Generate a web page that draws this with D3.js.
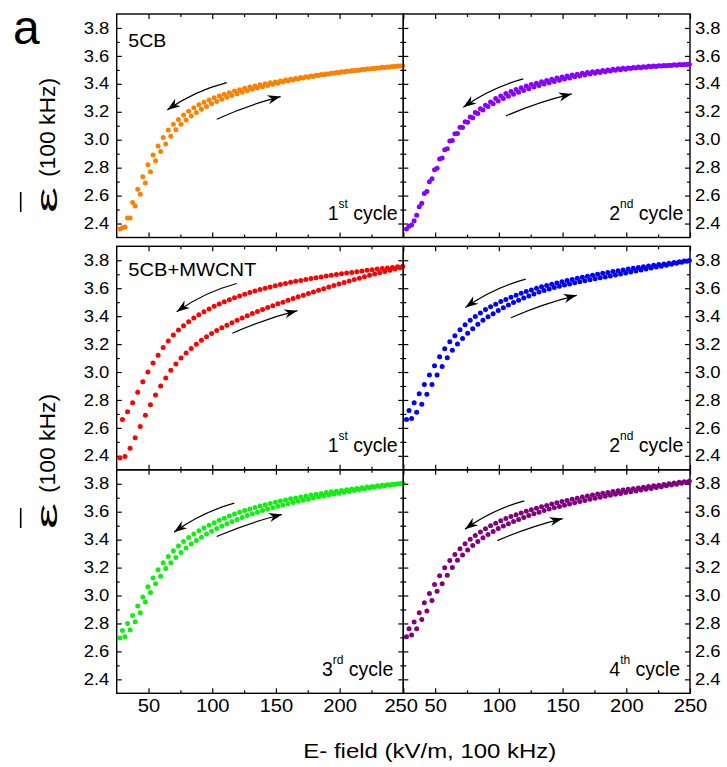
<!DOCTYPE html>
<html>
<head>
<meta charset="utf-8">
<script src="https://cdn.jsdelivr.net/npm/d3@7"></script>
<style>
  html, body { margin: 0; padding: 0; background: #fff; }
  svg { display: block; font-family: "Liberation Sans", Arial, sans-serif; }
</style>
</head>
<body>
<svg id="chart" width="727" height="767"></svg>
<script>
// ---- Field values (kV/m) for the rising and the falling sweep ----
const fieldUp = [27.5,31.5,35.5,39.5,43.5,47.5,51.5,55.5,59.5,63.5,67.5,71.5,75.5,79.5,83.5,87.5,91.5,95.5,99.5,103.5,107.5,111.5,115.5,119.5,123.5,127.5,131.5,135.5,139.5,143.5,147.5,151.5,155.5,159.5,163.5,167.5,171.5,175.5,179.5,183.5,187.5,191.5,195.5,199.5,203.5,207.5,211.5,215.5,219.5,223.5,227.5,231.5,235.5,239.5,243.5,247.5];
const fieldDown = [29.5,33.5,37.5,41.5,45.5,49.5,53.5,57.5,61.5,65.5,69.5,73.5,77.5,81.5,85.5,89.5,93.5,97.5,101.5,105.5,109.5,113.5,117.5,121.5,125.5,129.5,133.5,137.5,141.5,145.5,149.5,153.5,157.5,161.5,165.5,169.5,173.5,177.5,181.5,185.5,189.5,193.5,197.5,201.5,205.5,209.5,213.5,217.5,221.5,225.5,229.5,233.5,237.5,241.5,245.5,249.5];

// ---- Mean permittivity at 100 kHz ----
// 5CB, 1st cycle
const cb1Up = [2.36,2.375,2.44,2.525,2.61,2.69,2.77,2.85,2.915,2.97,3.025,3.072,3.11,3.142,3.17,3.195,3.218,3.238,3.257,3.274,3.29,3.304,3.317,3.329,3.34,3.351,3.361,3.371,3.38,3.389,3.397,3.405,3.413,3.42,3.427,3.434,3.441,3.447,3.453,3.459,3.465,3.47,3.475,3.48,3.485,3.49,3.494,3.498,3.502,3.506,3.51,3.514,3.517,3.521,3.524,3.528];
const cb1Down = [2.37,2.44,2.55,2.645,2.735,2.82,2.89,2.955,3.015,3.07,3.11,3.145,3.177,3.203,3.228,3.25,3.268,3.285,3.30,3.313,3.325,3.337,3.348,3.358,3.368,3.377,3.385,3.393,3.40,3.407,3.414,3.42,3.427,3.433,3.439,3.445,3.45,3.456,3.461,3.466,3.471,3.476,3.481,3.486,3.49,3.494,3.498,3.502,3.506,3.51,3.514,3.518,3.521,3.524,3.527,3.53];
// 5CB, 2nd cycle
const cb2Up = [2.36,2.39,2.46,2.545,2.63,2.72,2.795,2.87,2.935,2.995,3.045,3.088,3.125,3.158,3.187,3.213,3.237,3.258,3.277,3.295,3.311,3.326,3.34,3.353,3.365,3.377,3.388,3.398,3.408,3.417,3.426,3.434,3.442,3.45,3.457,3.464,3.47,3.476,3.482,3.487,3.492,3.497,3.501,3.505,3.509,3.513,3.516,3.519,3.522,3.525,3.528,3.53,3.532,3.534,3.536,3.538];
const cb2Down = [2.38,2.42,2.52,2.615,2.70,2.785,2.862,2.928,2.99,3.042,3.09,3.128,3.163,3.194,3.222,3.247,3.27,3.295,3.313,3.33,3.345,3.359,3.372,3.384,3.395,3.405,3.415,3.424,3.433,3.441,3.449,3.456,3.463,3.469,3.475,3.481,3.486,3.491,3.496,3.50,3.504,3.508,3.511,3.514,3.517,3.52,3.523,3.526,3.528,3.53,3.532,3.534,3.536,3.538,3.539,3.54];
// 5CB+MWCNT, cycles 1-4
const cnt1Up = [2.385,2.395,2.455,2.53,2.61,2.69,2.765,2.835,2.90,2.958,3.012,3.058,3.10,3.137,3.168,3.198,3.227,3.252,3.275,3.297,3.317,3.335,3.353,3.37,3.387,3.403,3.419,3.434,3.448,3.462,3.475,3.488,3.50,3.513,3.526,3.538,3.55,3.562,3.573,3.585,3.597,3.608,3.619,3.63,3.641,3.652,3.662,3.672,3.682,3.692,3.701,3.71,3.719,3.728,3.737,3.746];
const cnt1Down = [2.66,2.715,2.78,2.855,2.93,3.00,3.065,3.12,3.175,3.222,3.265,3.30,3.332,3.36,3.386,3.41,3.432,3.452,3.47,3.487,3.503,3.517,3.531,3.544,3.557,3.569,3.58,3.59,3.60,3.609,3.618,3.626,3.634,3.642,3.649,3.656,3.663,3.669,3.675,3.681,3.687,3.693,3.698,3.703,3.708,3.713,3.718,3.723,3.728,3.732,3.737,3.741,3.745,3.749,3.753,3.757];
const cnt2Up = [2.66,2.668,2.712,2.77,2.84,2.91,2.978,3.04,3.102,3.155,3.20,3.24,3.277,3.309,3.342,3.371,3.395,3.418,3.44,3.46,3.479,3.497,3.514,3.53,3.545,3.559,3.572,3.584,3.595,3.605,3.614,3.623,3.631,3.639,3.646,3.653,3.66,3.667,3.674,3.681,3.688,3.695,3.702,3.709,3.716,3.723,3.73,3.737,3.744,3.751,3.758,3.765,3.772,3.779,3.786,3.793];
const cnt2Down = [2.725,2.78,2.845,2.91,2.978,3.045,3.11,3.166,3.217,3.26,3.303,3.338,3.37,3.398,3.423,3.447,3.467,3.486,3.504,3.52,3.535,3.549,3.563,3.576,3.588,3.599,3.61,3.62,3.629,3.638,3.647,3.655,3.663,3.671,3.679,3.686,3.693,3.70,3.707,3.713,3.719,3.725,3.731,3.737,3.743,3.749,3.754,3.759,3.764,3.769,3.774,3.779,3.784,3.789,3.794,3.799];
const cnt3Up = [2.695,2.705,2.753,2.812,2.877,2.953,3.022,3.085,3.138,3.193,3.234,3.273,3.308,3.34,3.368,3.394,3.418,3.44,3.46,3.479,3.497,3.514,3.53,3.545,3.559,3.572,3.585,3.597,3.608,3.619,3.629,3.639,3.648,3.657,3.666,3.674,3.682,3.69,3.698,3.705,3.712,3.719,3.726,3.733,3.739,3.745,3.751,3.757,3.763,3.769,3.775,3.78,3.785,3.79,3.795,3.80];
const cnt3Down = [2.75,2.80,2.857,2.925,2.99,3.062,3.125,3.185,3.235,3.28,3.32,3.355,3.387,3.415,3.44,3.463,3.484,3.503,3.521,3.538,3.554,3.569,3.583,3.596,3.608,3.619,3.63,3.64,3.65,3.659,3.668,3.676,3.684,3.692,3.699,3.706,3.713,3.719,3.725,3.731,3.737,3.742,3.747,3.752,3.757,3.762,3.767,3.772,3.776,3.78,3.785,3.789,3.793,3.797,3.801,3.805];
const cnt4Up = [2.705,2.718,2.762,2.828,2.89,2.965,3.03,3.085,3.145,3.20,3.252,3.29,3.325,3.358,3.387,3.413,3.437,3.459,3.479,3.497,3.514,3.53,3.545,3.559,3.572,3.585,3.597,3.608,3.619,3.629,3.638,3.647,3.656,3.665,3.673,3.681,3.689,3.697,3.704,3.711,3.718,3.725,3.731,3.737,3.743,3.749,3.755,3.761,3.767,3.773,3.779,3.785,3.791,3.797,3.803,3.809];
const cnt4Down = [2.762,2.81,2.877,2.948,3.015,3.078,3.142,3.198,3.25,3.293,3.335,3.371,3.402,3.43,3.455,3.478,3.499,3.518,3.535,3.551,3.565,3.578,3.591,3.603,3.614,3.625,3.635,3.645,3.655,3.664,3.673,3.681,3.689,3.697,3.705,3.712,3.719,3.726,3.732,3.738,3.744,3.75,3.755,3.76,3.765,3.77,3.775,3.78,3.785,3.79,3.795,3.80,3.805,3.81,3.815,3.82];

// ---- Axis ticks ----
const xMajor = [50, 100, 150, 200, 250];
const xMinor = [75, 125, 175, 225];
const yMajor = [2.4, 2.6, 2.8, 3.0, 3.2, 3.4, 3.6, 3.8];
const yMinor = [2.5, 2.7, 2.9, 3.1, 3.3, 3.5, 3.7];

// ---- Layout ----
const colX = [[116.7, 403.3], [403.3, 690]];
const rowY = [[14, 237.5], [246.3, 469.8], [469.8, 693.3]];
const xDomain = [25, 250], yDomain = [2.3, 3.9];

// sweep-direction arrows, in data units: [E start, eps start, E end, eps end]
const panels = [
  { row: 0, col: 0, up: cb1Up, down: cb1Down, color: "#ff8000", sample: "5CB", sampleW: 38,
    cyc: ["1", "st"], cycRight: 5.6,
    back: [111.4, 3.409, 64.7, 3.213], fwd: [103.5, 3.147, 153.7, 3.309] },
  { row: 0, col: 1, up: cb2Up, down: cb2Down, color: "#8800ff",
    cyc: ["2", "nd"], cycRight: 6.7,
    back: [119.2, 3.435, 72.1, 3.233], fwd: [105.6, 3.171, 157.2, 3.328] },
  { row: 1, col: 0, up: cnt1Up, down: cnt1Down, color: "#ff0000", sample: "5CB+MWCNT", sampleW: 128,
    cyc: ["1", "st"], cycRight: 5.6,
    back: [119.2, 3.634, 72.1, 3.432], fwd: [115.8, 3.278, 166.8, 3.439] },
  { row: 1, col: 1, up: cnt2Up, down: cnt2Down, color: "#0000ff",
    cyc: ["2", "nd"], cycRight: 6.7,
    back: [121.1, 3.665, 73.7, 3.461], fwd: [109.5, 3.389, 161.1, 3.549] },
  { row: 2, col: 0, up: cnt3Up, down: cnt3Down, color: "#11ee11",
    cyc: ["3", "rd"], cycRight: 10,
    back: [117.3, 3.661, 70.0, 3.453], fwd: [103.5, 3.422, 154.8, 3.580] },
  { row: 2, col: 1, up: cnt4Up, down: cnt4Down, color: "#800080",
    cyc: ["4", "th"], cycRight: 10,
    back: [120.0, 3.677, 73.4, 3.475], fwd: [98.8, 3.393, 150.1, 3.551] }
];

const svg = d3.select("#chart");

// arrowhead
svg.append("defs").append("marker")
  .attr("id", "head")
  .attr("viewBox", "-14 -6 16 12")
  .attr("refX", 0).attr("refY", 0)
  .attr("markerUnits", "userSpaceOnUse")
  .attr("markerWidth", 16).attr("markerHeight", 12)
  .attr("orient", "auto")
  .append("path")
  .attr("d", "M0,0 L-13,-4.6 L-9,0 L-13,4.6 Z")
  .attr("fill", "#000");

// widen a text element horizontally by a factor
function widen(sel, f) {
  sel.each(function () {
    const len = this.getComputedTextLength();
    d3.select(this).attr("textLength", len * f).attr("lengthAdjust", "spacingAndGlyphs");
  });
}

const fmtY = d3.format(".1f");
const fmtX = d3.format("d");

function drawPanel(p) {
  const [x0, x1] = colX[p.col];
  const [y0, y1] = rowY[p.row];
  const x = d3.scaleLinear().domain(xDomain).range([x0, x1]);
  const y = d3.scaleLinear().domain(yDomain).range([y1, y0]);
  const g = svg.append("g");

  function addAxis(axis, tr) {
    const a = g.append("g").attr("transform", tr).call(axis);
    a.attr("font-size", null).attr("font-family", null);
    a.select(".domain").remove();
    a.selectAll("line").attr("stroke", "#000").attr("stroke-width", 1.2);
    a.selectAll("text").attr("fill", "#000");
    return a;
  }

  // bottom
  const bx = addAxis(d3.axisBottom(x).tickValues(xMajor).tickSize(-5).tickPadding(6)
    .tickFormat(p.row === 2 ? fmtX : () => ""), `translate(0,${y1})`);
  addAxis(d3.axisBottom(x).tickValues(xMinor).tickSize(-3).tickFormat(() => ""), `translate(0,${y1})`);
  // top
  addAxis(d3.axisTop(x).tickValues(xMajor).tickSize(-5).tickFormat(() => ""), `translate(0,${y0})`);
  addAxis(d3.axisTop(x).tickValues(xMinor).tickSize(-3).tickFormat(() => ""), `translate(0,${y0})`);
  // left
  const lx = addAxis(d3.axisLeft(y).tickValues(yMajor).tickSize(-5).tickPadding(7.4)
    .tickFormat(p.col === 0 ? fmtY : () => ""), `translate(${x0},0)`);
  addAxis(d3.axisLeft(y).tickValues(yMinor).tickSize(-3).tickFormat(() => ""), `translate(${x0},0)`);
  // right
  const rx = addAxis(d3.axisRight(y).tickValues(yMajor).tickSize(-5).tickPadding(5)
    .tickFormat(p.col === 1 ? fmtY : () => ""), `translate(${x1},0)`);
  addAxis(d3.axisRight(y).tickValues(yMinor).tickSize(-3).tickFormat(() => ""), `translate(${x1},0)`);

  if (p.row === 2) {
    bx.selectAll("text").attr("font-size", 17.5);
    widen(bx.selectAll("text"), 1.15);
    if (p.col === 0) bx.selectAll("text").filter(d => d === 250).attr("dx", "-0.15em");
  }
  if (p.col === 0) { lx.selectAll("text").attr("font-size", 16); widen(lx.selectAll("text"), 1.15); }
  if (p.col === 1) { rx.selectAll("text").attr("font-size", 16); widen(rx.selectAll("text"), 1.15); }

  // frame
  g.append("rect")
    .attr("x", x0).attr("y", y0).attr("width", x1 - x0).attr("height", y1 - y0)
    .attr("fill", "none").attr("stroke", "#000").attr("stroke-width", 1.4);

  // data: rising sweep, then falling sweep
  const pts = [];
  fieldUp.forEach((e, i) => { if (p.up[i] != null) pts.push([e, p.up[i]]); });
  fieldDown.forEach((e, i) => { if (p.down[i] != null) pts.push([e, p.down[i]]); });
  g.append("g").selectAll("circle").data(pts).join("circle")
    .attr("cx", d => x(d[0])).attr("cy", d => y(d[1]))
    .attr("r", 2.5).attr("fill", p.color);

  // sweep arrows, slightly bowed upward
  function arrow(a, bow) {
    const ax = x(a[0]), ay = y(a[1]), bxp = x(a[2]), byp = y(a[3]);
    const dx = bxp - ax, dy = byp - ay, len = Math.hypot(dx, dy);
    let nx = -dy / len, ny = dx / len;
    if (ny > 0) { nx = -nx; ny = -ny; }
    const cx = (ax + bxp) / 2 + nx * 2 * bow, cy = (ay + byp) / 2 + ny * 2 * bow;
    const path = d3.path();
    path.moveTo(ax, ay);
    path.quadraticCurveTo(cx, cy, bxp, byp);
    g.append("path").attr("d", path.toString())
      .attr("fill", "none").attr("stroke", "#000").attr("stroke-width", 1.2)
      .attr("marker-end", "url(#head)");
  }
  arrow(p.back, 3);
  arrow(p.fwd, 1.5);

  // sample name
  if (p.sample) {
    g.append("text").attr("x", x0 + 11.6).attr("y", y0 + (p.row === 0 ? 32.7 : 29.8))
      .attr("font-size", 18.5).attr("textLength", p.sampleW).attr("lengthAdjust", "spacingAndGlyphs")
      .text(p.sample);
  }

  // cycle label with ordinal superscript
  const t = g.append("text").attr("x", x1 - p.cycRight).attr("y", y1 - 17.6)
    .attr("font-size", 19.5).attr("text-anchor", "end");
  t.append("tspan").text(p.cyc[0]);
  t.append("tspan").attr("font-size", 12).attr("dy", -12).text(p.cyc[1]);
  t.append("tspan").attr("dy", 12).text(" cycle");
}

panels.forEach(drawPanel);

// y-axis titles: mean permittivity (overbar drawn as a separate stroke)
function yTitle(shift) {
  svg.append("text")
    .attr("transform", `translate(54.5,${177 + shift}) rotate(-90)`)
    .attr("font-size", 22).attr("textLength", 99).attr("lengthAdjust", "spacingAndGlyphs")
    .text("(100 kHz)");
  svg.append("text")
    .attr("transform", `translate(57,${213 + shift}) rotate(-90)`)
    .attr("font-size", 30).attr("textLength", 26).attr("lengthAdjust", "spacingAndGlyphs")
    .text("ε");
  svg.append("line")
    .attr("x1", 20.7).attr("x2", 20.7).attr("y1", 192 + shift).attr("y2", 212 + shift)
    .attr("stroke", "#000").attr("stroke-width", 1.6);
}
yTitle(0);
yTitle(316);

// panel letter
svg.append("text").attr("x", 13).attr("y", 44).attr("font-size", 48).text("a");

// x-axis title
svg.append("text").attr("x", 303.3).attr("y", 758.3).attr("font-size", 21)
  .attr("textLength", 253).attr("lengthAdjust", "spacingAndGlyphs")
  .text("E- field (kV/m, 100 kHz)");
</script>
</body>
</html>
